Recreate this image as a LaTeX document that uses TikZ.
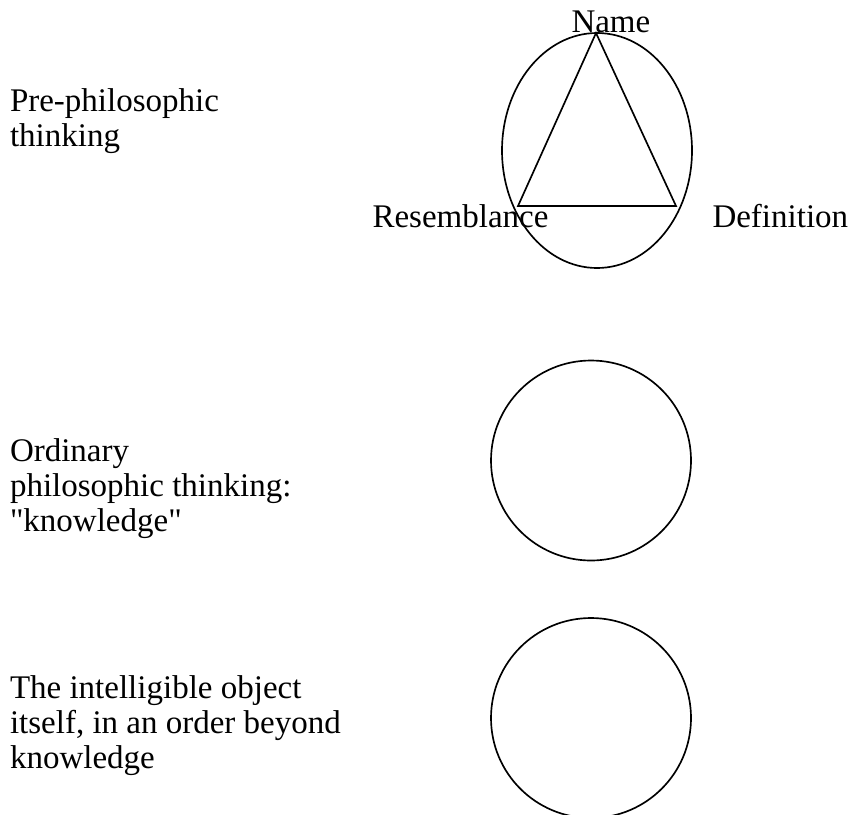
\documentclass[tikz,border=0pt]{standalone}
\usepackage{fontspec}
\setmainfont{Liberation Serif}[Ligatures=TeXOff]
\usetikzlibrary{shapes.geometric}
\begin{document}
\begin{tikzpicture}[x=0.75pt,y=-0.75pt,
  outline/.style={draw=black,line width=1.25pt,inner sep=0pt,outer sep=0pt},
  lbl/.style={inner sep=0pt,outer sep=0pt,anchor=base west,align=left,
    font=\fontsize{24.75pt}{26.25pt}\selectfont}]
\useasboundingbox (0,0) rectangle (855,814);
% shapes
\node[outline,ellipse,minimum width=142.5pt,minimum height=176.25pt] (oval) at (597,150.5) {};
\coordinate (apex) at (596,33);
\coordinate (bl) at (518,206);
\coordinate (br) at (676,206);
\draw[line width=1.25pt,line join=miter] (apex) -- (bl) -- (br) -- cycle;
\node[outline,circle,minimum size=150pt] (mid) at (591,460.5) {};
\node[outline,circle,minimum size=150pt] (low) at (591,718) {};
% labels
\node[lbl] (name) at (571.5,32) {Name};
\node[lbl] (res) at (372.5,227) {Resemblance};
\node[lbl] (def) at (712.5,227) {Definition};
\node[lbl] (pre) at (10,146) {Pre-philosophic\\thinking};
\node[lbl] (ord) at (10,531) {Ordinary\\philosophic thinking:\\"knowledge"};
\node[lbl] (intel) at (10,768) {The intelligible object\\itself, in an order beyond\\knowledge};
\end{tikzpicture}
\end{document}
